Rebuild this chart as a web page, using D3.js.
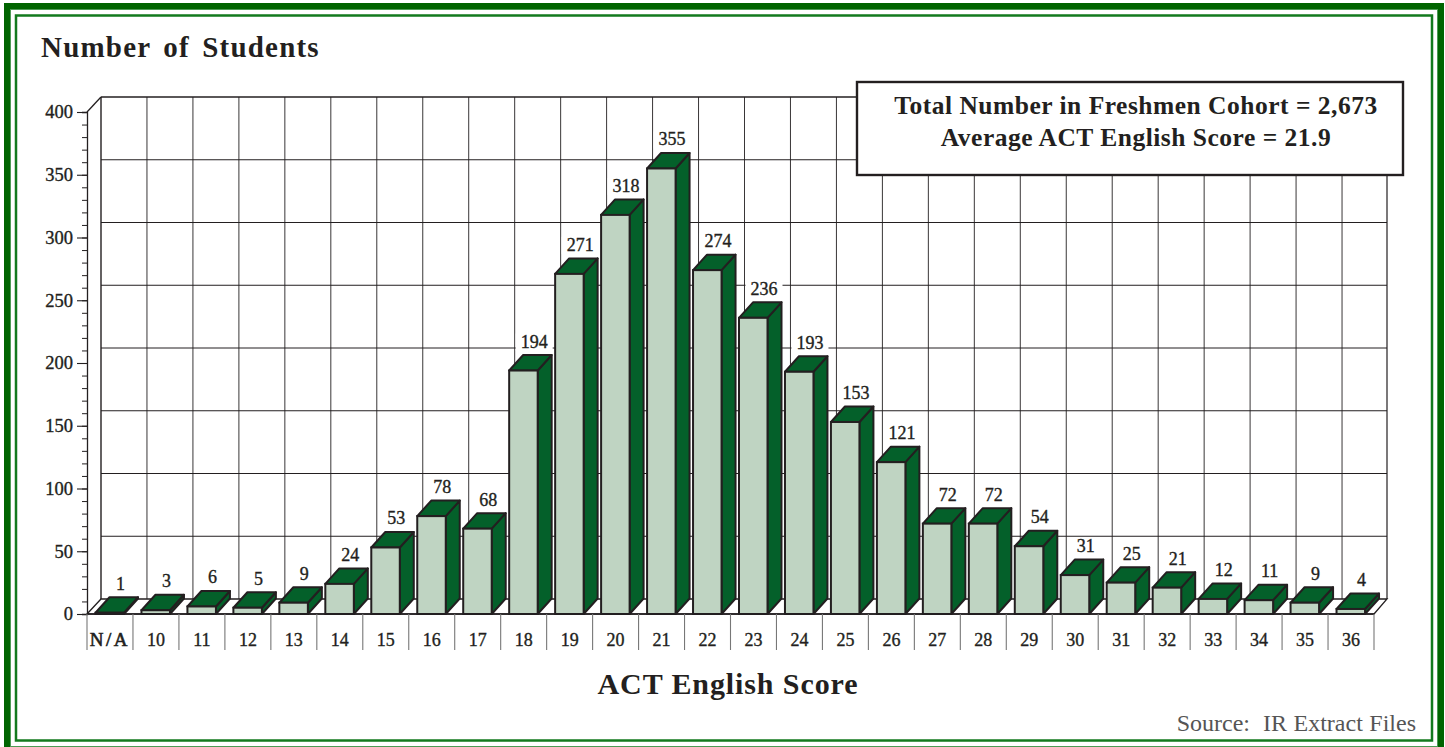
<!DOCTYPE html>
<html>
<head>
<meta charset="utf-8">
<title>ACT English Score</title>
<script src="https://cdn.jsdelivr.net/npm/d3@7"></script>
<style>
  html, body { margin: 0; padding: 0; background: #fff; overflow: hidden; }
  svg { display: block; }
  text { font-family: "Liberation Serif", serif; fill: #231f20; stroke: #231f20; stroke-width: 0.35px; }
</style>
</head>
<body>
<div id="chart"></div>
<script>
const categories = ["N/A", "10", "11", "12", "13", "14", "15", "16", "17", "18", "19", "20", "21", "22",
  "23", "24", "25", "26", "27", "28", "29", "30", "31", "32", "33", "34", "35", "36"];
const students = [1, 3, 6, 5, 9, 24, 53, 78, 68, 194, 271, 318, 355, 274,
  236, 193, 153, 121, 72, 72, 54, 31, 25, 21, 12, 11, 9, 4];
const majorTicks = [0, 50, 100, 150, 200, 250, 300, 350, 400];
const minorTicks = d3.range(0, 401, 10);
const infoLines = ["Total Number in Freshmen Cohort = 2,673", "Average ACT English Score = 21.9"];

const width = 1445, height = 747;
const ink = "#231f20";
const darkGreen = "#04602a";
const paleGreen = "#bfd4c2";

// depth of the fake 3D box
const wallDx = 14, wallDy = 15;
const barInset = 8.5, barW = 28.5, barDx = 14, barDy = 15.5;

const svg = d3.select("#chart").append("svg")
  .attr("width", width)
  .attr("height", height);

// Frame: the outer band runs off the right and bottom of the picture
svg.append("rect").attr("width", width).attr("height", height).attr("fill", "#fff");
svg.append("rect").attr("x", 7).attr("y", 6).attr("width", 1434).attr("height", 743)
  .attr("fill", "none").attr("stroke", "#006400").attr("stroke-width", 6);
svg.append("rect").attr("x", 10.5).attr("y", 9.5).attr("width", 1427).attr("height", 737)
  .attr("fill", "none").attr("stroke", "#4d9a55").attr("stroke-width", 1);
svg.append("rect").attr("x", 16).attr("y", 15.5).attr("width", 1416).attr("height", 725)
  .attr("fill", "none").attr("stroke", "#137a1e").attr("stroke-width", 2.5);

const x = d3.scaleBand().domain(categories).range([87, 1374]);
const y = d3.scaleLinear().domain([0, 400]).range([614, 112]);

// Back wall grid
const grid = svg.append("g");
grid.selectAll(".hgrid")
  .data(majorTicks.slice(1))
  .join("line")
  .attr("class", "hgrid")
  .attr("x1", x.range()[0] + wallDx).attr("x2", x.range()[1] + wallDx - 1)
  .attr("y1", d => y(d) - wallDy).attr("y2", d => y(d) - wallDy)
  .attr("stroke", ink).attr("stroke-width", d => d === 400 ? 1.6 : 1);
grid.selectAll(".vgrid")
  .data(categories)
  .join("line")
  .attr("class", "vgrid")
  .attr("x1", d => x(d) + wallDx).attr("x2", d => x(d) + wallDx)
  .attr("y1", y(400) - wallDy).attr("y2", y(0) - wallDy)
  .attr("stroke", ink).attr("stroke-width", (d, i) => i === 0 ? 1.4 : 0.9);
grid.append("line")
  .attr("x1", x.range()[1] + wallDx - 1).attr("x2", x.range()[1] + wallDx - 1)
  .attr("y1", y(400) - wallDy).attr("y2", y(0) - wallDy)
  .attr("stroke", ink).attr("stroke-width", 1.2);

// Floor
svg.append("path")
  .attr("d", d3.line()([
    [x.range()[0], y(0)],
    [x.range()[0] + wallDx, y(0) - wallDy],
    [x.range()[1] + wallDx - 1, y(0) - wallDy],
    [x.range()[1], y(0)]
  ]) + "Z")
  .attr("fill", "#fff").attr("stroke", ink).attr("stroke-width", 1.3);

// Left wall edge
svg.append("line")
  .attr("x1", x.range()[0]).attr("y1", y(400))
  .attr("x2", x.range()[0] + wallDx).attr("y2", y(400) - wallDy)
  .attr("stroke", ink).attr("stroke-width", 1.3);

// Bars
const bars = svg.selectAll(".bar")
  .data(categories.map((c, i) => ({ cat: c, val: students[i] })))
  .join("g")
  .attr("class", "bar");

bars.append("path") // side
  .attr("d", d => {
    const l = x(d.cat) + barInset + barW, t = y(d.val), b = y(0);
    return `M${l},${t}L${l + barDx},${t - barDy}L${l + barDx},${b - barDy}L${l},${b}Z`;
  })
  .attr("fill", darkGreen).attr("stroke", ink).attr("stroke-width", 2).attr("stroke-linejoin", "round");
bars.append("path") // top
  .attr("d", d => {
    const l = x(d.cat) + barInset, t = y(d.val);
    return `M${l},${t}L${l + barDx},${t - barDy}L${l + barW + barDx},${t - barDy}L${l + barW},${t}Z`;
  })
  .attr("fill", darkGreen).attr("stroke", ink).attr("stroke-width", 2).attr("stroke-linejoin", "round");
bars.append("rect") // front
  .attr("x", d => x(d.cat) + barInset)
  .attr("y", d => y(d.val))
  .attr("width", barW)
  .attr("height", d => y(0) - y(d.val))
  .attr("fill", paleGreen).attr("stroke", ink).attr("stroke-width", 2);

// Value labels sit on a white patch that breaks the grid like the original
const valueLabels = bars.append("text")
  .attr("x", d => x(d.cat) + 33.5)
  .attr("y", d => y(d.val) - 23)
  .attr("text-anchor", "middle")
  .attr("font-size", 18)
  .text(d => d.val);
valueLabels.each(function () {
  const box = this.getBBox();
  d3.select(this.parentNode).insert("rect", "text")
    .attr("x", box.x - 5).attr("y", box.y + 2)
    .attr("width", box.width + 10).attr("height", box.height - 3)
    .attr("fill", "#fff");
});

// Y axis
const yMinor = d3.axisLeft(y).tickValues(minorTicks).tickSize(5).tickFormat("");
const yMajor = d3.axisLeft(y).tickValues(majorTicks).tickSize(10).tickPadding(4);
svg.append("g").attr("transform", "translate(87,0)").call(yMinor)
  .call(g => g.selectAll("line").attr("stroke", ink).attr("stroke-width", 1))
  .call(g => g.select(".domain").attr("stroke", ink).attr("stroke-width", 1.3));
svg.append("g").attr("transform", "translate(87,0)").call(yMajor)
  .call(g => g.select(".domain").remove())
  .call(g => g.selectAll("line").attr("stroke", ink).attr("stroke-width", 1.1))
  .call(g => g.selectAll("text")
    .style("font-family", '"Liberation Serif", serif')
    .style("font-size", "18.5px")
    .style("fill", ink));

// X axis: separators and labels
const xAxis = svg.append("g");
xAxis.append("line")
  .attr("x1", x.range()[0]).attr("x2", x.range()[1])
  .attr("y1", y(0)).attr("y2", y(0))
  .attr("stroke", ink).attr("stroke-width", 1.5);
xAxis.selectAll(".sep")
  .data(categories.concat("end"))
  .join("line")
  .attr("class", "sep")
  .attr("x1", d => d === "end" ? x.range()[1] : x(d))
  .attr("x2", d => d === "end" ? x.range()[1] : x(d))
  .attr("y1", y(0)).attr("y2", 650)
  .attr("stroke", "#777").attr("stroke-width", 1.1);
xAxis.selectAll(".cat")
  .data(categories)
  .join("text")
  .attr("class", "cat")
  .attr("x", d => x(d) + x.bandwidth() / 2)
  .attr("y", 646)
  .attr("text-anchor", "middle")
  .attr("font-size", d => d === "N/A" ? 19 : 18)
  .attr("letter-spacing", d => d === "N/A" ? 2.5 : 0)
  .style("stroke-width", d => d === "N/A" ? "0.6px" : null)
  .text(d => d);

// Info box
svg.append("rect")
  .attr("x", 857).attr("y", 82).attr("width", 546).attr("height", 93)
  .attr("fill", "#fff").attr("stroke", ink).attr("stroke-width", 2.4);
svg.selectAll(".info")
  .data(infoLines)
  .join("text")
  .attr("class", "info")
  .attr("x", 1136)
  .attr("y", (d, i) => 114 + i * 32)
  .attr("text-anchor", "middle")
  .attr("font-size", 25.5)
  .attr("font-weight", 700)
  .attr("letter-spacing", 0.5)
  .style("stroke-width", 0)
  .text(d => d);

// Titles
svg.append("text").attr("x", 41).attr("y", 57)
  .attr("font-size", 29).attr("font-weight", 700)
  .attr("letter-spacing", 1.2).attr("word-spacing", 4)
  .style("stroke-width", 0)
  .text("Number of Students");
svg.append("text").attr("x", 728).attr("y", 694)
  .attr("text-anchor", "middle")
  .attr("font-size", 30).attr("font-weight", 700)
  .attr("letter-spacing", 0.9)
  .style("stroke-width", 0)
  .text("ACT English Score");
svg.append("text").attr("x", 1416).attr("y", 731)
  .attr("text-anchor", "end")
  .attr("font-size", 24).attr("word-spacing", 0.5)
  .style("fill", "#555").style("stroke-width", 0)
  .text("Source:\u00a0 IR Extract Files");
</script>
</body>
</html>
